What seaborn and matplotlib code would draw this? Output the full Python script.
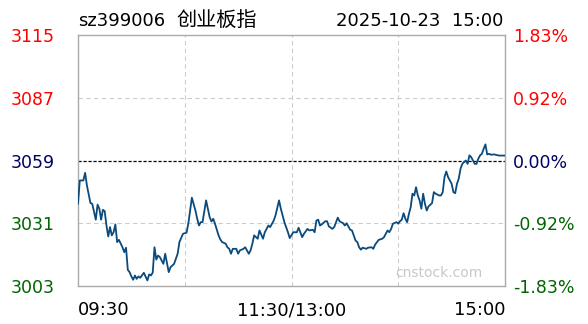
import matplotlib
matplotlib.use("Agg")
import matplotlib.pyplot as plt
import seaborn as sns
import pandas as pd

# ---- data ----
prev_close = 3059.2
pct_range = 1.83
title_code = "sz399006"
title_name = "创业板指"
title_right = "2025-10-23  15:00"
x_tick_labels = ["09:30", "11:30/13:00", "15:00"]
left_labels = ["3115", "3087", "3059", "3031", "3003"]
right_labels = ["1.83%", "0.92%", "0.00%", "-0.92%", "-1.83%"]
label_colors = ["#ff0000", "#ff0000", "#000066", "#006400", "#006400"]

minutes = [0, 1, 3, 4, 5, 7, 8, 10, 11, 12, 13, 14, 15, 16, 17, 18, 19, 20, 21, 22,
           23, 24, 25, 26, 27, 28, 29, 30, 31, 32, 33, 34, 35, 37, 39, 40, 41, 42, 43, 44,
           45, 46, 48, 49, 51, 52, 54, 56, 57, 59, 61, 62, 64, 66, 67, 68, 69, 70, 72, 74,
           75, 76, 77, 79, 80, 81, 83, 84, 85, 86, 87, 89, 90, 91, 93, 94, 96, 97, 98, 99,
           101, 102, 104, 105, 107, 108, 110, 111, 113, 114, 116, 118, 119, 121, 123, 124, 126, 127, 129, 130,
           132, 133, 134, 135, 136, 137, 139, 140, 141, 143, 144, 146, 147, 149, 150, 151, 153, 154, 156, 157,
           158, 159, 160, 162, 163, 165, 166, 167, 169, 171, 172, 174, 175, 176, 177, 179, 180, 181, 182, 183,
           184, 185, 186, 187, 188, 189, 190, 191, 192, 193, 194, 195, 196, 197, 199, 200, 201, 203, 204, 205,
           206, 207, 208, 209, 210, 211, 212, 213, 214, 215, 216, 217, 218, 219, 220, 221, 222, 223, 224, 225,
           226, 227, 228, 229, 230, 231, 232, 234, 236, 237, 240]
prices = [3039.9, 3050.3, 3050.3, 3053.7, 3048.1, 3040.2, 3039.9, 3032.8, 3039.5, 3037.7,
          3032.8, 3037.2, 3036.6, 3030.2, 3025.3, 3029.5, 3025.8, 3027.2, 3030.7, 3022.8,
          3023.8, 3022.1, 3020.5, 3018.3, 3020.3, 3010.4, 3009.4, 3007.5, 3006.0, 3007.9,
          3006.4, 3007.5, 3006.9, 3009.1, 3005.7, 3008.4, 3007.9, 3009.2, 3020.5, 3015.0,
          3016.8, 3016.1, 3013.1, 3017.6, 3009.4, 3011.6, 3013.1, 3017.6, 3022.8, 3026.5,
          3027.0, 3031.0, 3042.6, 3036.9, 3033.2, 3030.2, 3031.7, 3031.7, 3041.4, 3033.9,
          3032.0, 3033.2, 3031.0, 3025.8, 3024.0, 3022.8, 3022.1, 3020.5, 3019.8, 3017.6,
          3019.8, 3019.8, 3017.6, 3019.1, 3019.8, 3020.5, 3017.6, 3019.1, 3022.1, 3025.8,
          3024.3, 3028.0, 3024.3, 3027.2, 3030.2, 3029.5, 3032.4, 3034.7, 3041.4, 3037.7,
          3031.7, 3027.2, 3024.6, 3027.2, 3027.2, 3029.2, 3025.0, 3026.5, 3028.7, 3028.0,
          3028.3, 3027.2, 3032.4, 3032.8, 3030.2, 3030.7, 3032.1, 3032.1, 3029.8, 3028.7,
          3029.5, 3033.7, 3032.1, 3031.2, 3030.2, 3031.2, 3028.3, 3028.0, 3023.5, 3022.8,
          3020.5, 3019.4, 3020.3, 3019.8, 3020.3, 3020.5, 3019.8, 3021.7, 3023.8, 3024.3,
          3025.0, 3028.0, 3027.2, 3028.7, 3031.0, 3031.7, 3031.0, 3032.1, 3032.8, 3035.7,
          3033.2, 3031.7, 3035.4, 3038.4, 3044.4, 3043.6, 3047.3, 3043.6, 3041.4, 3037.7,
          3044.4, 3039.9, 3036.9, 3038.7, 3040.2, 3045.1, 3044.4, 3043.6, 3043.6, 3045.1,
          3051.8, 3054.3, 3051.8, 3050.3, 3048.8, 3045.1, 3044.6, 3048.8, 3051.1, 3055.5,
          3057.7, 3058.5, 3059.2, 3057.7, 3061.5, 3060.7, 3059.2, 3057.7, 3057.7, 3060.0,
          3061.5, 3062.2, 3064.4, 3066.4, 3061.9, 3062.2, 3061.8, 3061.9, 3061.5, 3061.4, 3061.4]

df = pd.DataFrame({"minute": minutes, "price": prices})

sns.set_theme(style="white")
plt.rcParams["font.family"] = ["DejaVu Sans", "Noto Sans CJK SC"]

fig = plt.figure(figsize=(5.88, 3.24), dpi=100)
ax = fig.add_axes([78 / 588, 1 - 286 / 324, 427 / 588, 251 / 324])

ymin = prev_close * (1 - pct_range / 100)
ymax = prev_close * (1 + pct_range / 100)
half = prev_close * pct_range / 200

# grid
for xv in [60, 120, 180]:
    ax.axvline(xv, color="#cccccc", lw=0.8, ls=(0, (4, 3)), zorder=0)
for yv in [prev_close + half, prev_close - half]:
    ax.axhline(yv, color="#cccccc", lw=0.8, ls=(0, (4, 3)), zorder=0)
ax.axhline(prev_close, color="black", lw=0.9, ls=(0, (2.5, 1.5)), zorder=1)

sns.lineplot(data=df, x="minute", y="price", ax=ax, color="#0a4a7c", lw=1.3, zorder=3)

ax.set_xlim(0, 240)
ax.set_ylim(ymin, ymax)
ax.set_xlabel("")
ax.set_ylabel("")
for s in ax.spines.values():
    s.set_color("#aaaaaa")
    s.set_linewidth(1.0)

yt = [ymax, prev_close + half, prev_close, prev_close - half, ymin]
ax.set_yticks(yt)
ax.set_yticklabels(left_labels, fontsize=12.5)
ax.tick_params(axis="y", length=0, pad=17)
for lab, c in zip(ax.get_yticklabels(), label_colors):
    lab.set_color(c)

ax.set_xticks([0, 120, 240])
ax.set_xticklabels(x_tick_labels, fontsize=13, color="black")
ax.tick_params(axis="x", length=0, pad=11)
xl = ax.get_xticklabels()
xl[0].set_ha("left")
xl[2].set_ha("right")

ax2 = ax.twinx()
ax2.set_ylim(ymin, ymax)
ax2.set_yticks(yt)
ax2.set_yticklabels(right_labels, fontsize=12.5)
ax2.tick_params(axis="y", length=0, pad=6)
for lab, c in zip(ax2.get_yticklabels(), label_colors):
    lab.set_color(c)
for s in ax2.spines.values():
    s.set_visible(False)
ax2.grid(False)

ax.text(0.948, 0.052, "cnstock.com", transform=ax.transAxes, ha="right", va="center",
        fontsize=10, color="#c8c8c8", zorder=2)

fig.text(78 / 588, 1 - 21 / 324, title_code, ha="left", va="center", fontsize=13,
         color="black")
fig.text(176 / 588, 1 - 20 / 324, title_name, ha="left", va="center", fontsize=14.5,
         color="black", family=["Noto Sans CJK SC", "DejaVu Sans"])
fig.text(503 / 588, 1 - 21 / 324, title_right, ha="right", va="center", fontsize=13,
         color="black")

fig.savefig("out.png", dpi=100)
